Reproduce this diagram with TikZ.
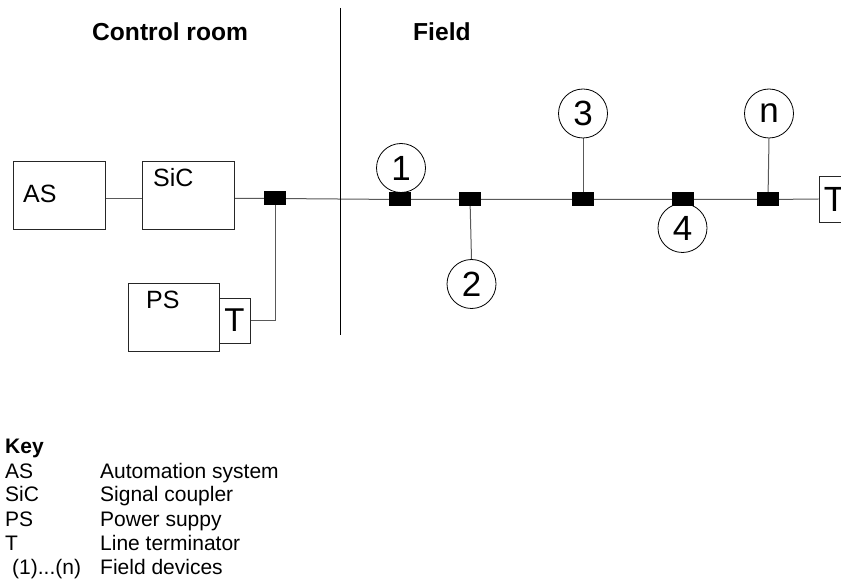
\documentclass[tikz,border=0pt]{standalone}
\usepackage{fontspec}
\setmainfont{Liberation Sans}
\usetikzlibrary{backgrounds}
\begin{document}
\begin{tikzpicture}[x=1pt,y=-1pt,
  box/.style={draw=black!85,line width=0.9pt,inner sep=0pt,rectangle,minimum width=92pt,minimum height=68pt},
  lbl/.style={inner sep=0pt,anchor=base west,font=\fontsize{25}{25}\selectfont},
  tbox/.style={draw=black!85,line width=0.9pt,inner sep=0pt,minimum width=31pt,minimum height=45pt,font=\fontsize{33}{33}\selectfont},
  coupler/.style={fill=black,inner sep=0pt,minimum width=22pt,minimum height=14pt},
  dev/.style={circle,draw=black,fill=white,line width=0.8pt,inner sep=0pt,minimum size=49pt,font=\fontsize{35}{35}\selectfont},
  wire/.style={draw=black!65,line width=1pt},
  keyt/.style={anchor=base west,inner sep=0pt,font=\fontsize{21}{21}\selectfont},
  title/.style={anchor=base west,inner sep=0pt,font=\fontsize{24.6}{24.6}\selectfont\bfseries}]
\clip (0,0) rectangle (841,585);

% titles
\node[title] (tcr) at (92,41) {Control room};
\node[title] (tfield) at (413,41) {Field};

% divider
\coordinate (dtop) at (340,8);
\coordinate (dbot) at (340,335);
\draw[black,line width=1pt] (dtop) -- (dbot);

% control room boxes
\node[box] (AS) at (59,195) {};
\node[lbl] (ASl) at (23,203) {AS};
\node[box] (SiC) at (188,195) {};
\node[lbl] (SiCl) at (153,187) {SiC};
\node[box,minimum width=91pt] (PS) at (173.5,317) {};
\node[lbl] (PSl) at (146,309) {PS};
\node[tbox,fill=white] (T1) at (234.5,320.5) {T};

% couplers
\node[coupler] (s0) at (275,198.5) {};
\node[coupler] (s1) at (400,199.5) {};
\node[coupler] (s2) at (470,199.5) {};
\node[coupler] (s3) at (583,199.5) {};
\node[coupler] (s4) at (683,199.5) {};
\node[coupler] (sn) at (768,199.5) {};

% right terminator
\node[tbox,minimum height=46pt,font=\fontsize{35}{35}\selectfont] (RT) at (834.5,199) {T};

% field devices
\begin{scope}[on background layer]
\node[dev] (d1) at (401,168) {1};
\node[dev] (d4) at (682.5,228) {4};
\end{scope}
\node[dev] (d2) at (471.5,284) {2};
\node[dev] (d3) at (583,113.5) {3};
\node[dev] (dn) at (769,113.5) {n};

% wires
\begin{scope}[on background layer]
\draw[wire] (AS.east |- s0) -- (SiC.west |- s0);
\draw[wire] (SiC.east |- s0) -- (s0.center) -- (s1.center) -- (s2.center) -- (s3.center) -- (s4.center) -- (sn.center) -- (RT.west);
\draw[wire] (s0.center) |- (T1.east);
\draw[wire] (s2.center) -- (d2.north);
\draw[wire] (s3.center) -- (d3.south);
\draw[wire] (sn.center) -- (dn.south);
\end{scope}

% key
\node[keyt,font=\fontsize{21}{21}\selectfont\bfseries] (key) at (5,453) {Key};
\node[keyt] (k1a) at (5,478) {AS};
\node[keyt] (k1b) at (100,478) {Automation system};
\node[keyt] (k2a) at (5,501) {SiC};
\node[keyt] (k2b) at (100,501) {Signal coupler};
\node[keyt] (k3a) at (5,526) {PS};
\node[keyt] (k3b) at (100,526) {Power suppy};
\node[keyt] (k4a) at (5,550) {T};
\node[keyt] (k4b) at (100,550) {Line terminator};
\node[keyt] (k5a) at (12,574) {(1)...(n)};
\node[keyt] (k5b) at (100,574) {Field devices};
\end{tikzpicture}
\end{document}
